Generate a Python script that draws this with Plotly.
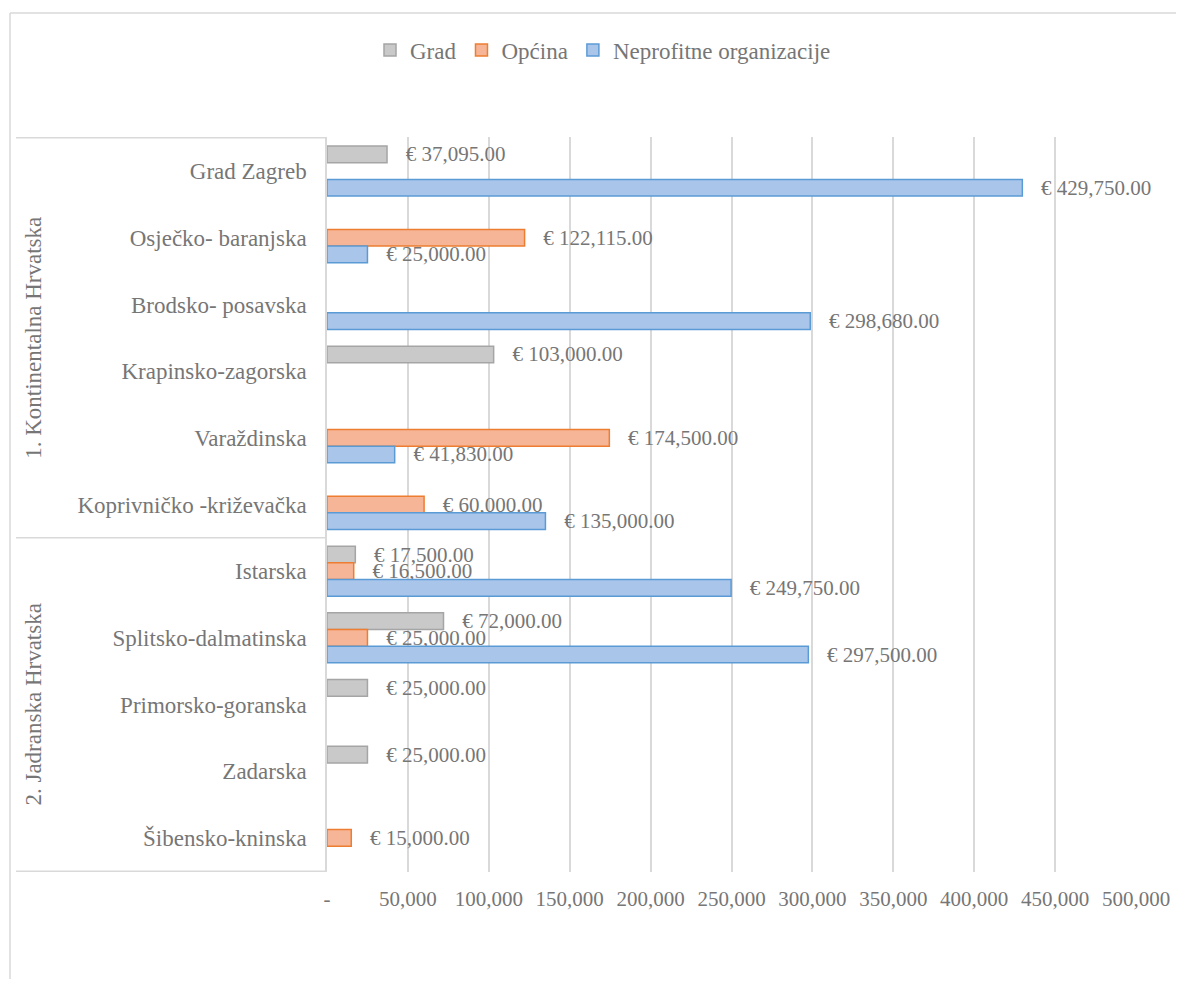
import plotly.graph_objects as go

categories = [
    "Grad Zagreb", "Osječko- baranjska", "Brodsko- posavska", "Krapinsko-zagorska",
    "Varaždinska", "Koprivničko -križevačka", "Istarska", "Splitsko-dalmatinska",
    "Primorsko-goranska", "Zadarska", "Šibensko-kninska",
]
grad = [37095, None, None, 103000, None, None, 17500, 72000, 25000, 25000, None]
opcina = [None, 122115, None, None, 174500, 60000, 16500, 25000, None, None, 15000]
neprofit = [429750, 25000, 298680, None, 41830, 135000, 249750, 297500, None, None, None]

groups = ["1. Kontinentalna Hrvatska", "2. Jadranska Hrvatska"]
group_sizes = [6, 5]

tick_vals = [0, 50000, 100000, 150000, 200000, 250000, 300000, 350000, 400000, 450000, 500000]
tick_text = ["-", "50,000", "100,000", "150,000", "200,000", "250,000", "300,000",
             "350,000", "400,000", "450,000", "500,000"]

FONT = "Liberation Serif, Times New Roman, serif"
TXT = "#767676"
LINE = "#d9d9d9"
NB = "\u00a0"


def labels(vals):
    return [f"{NB*3}€ {v:,.2f}" if v else "" for v in vals]


series = [
    ("Grad", grad, "#c9c9c9", "#a5a5a5"),
    ("Općina", opcina, "#f6b596", "#ed7d31"),
    ("Neprofitne organizacije", neprofit, "#a9c5ea", "#5b9bd5"),
]

fig = go.Figure()
for name, vals, fill, edge in series:
    fig.add_trace(go.Bar(
        name=name, y=categories, x=vals, orientation="h",
        marker=dict(color=fill, line=dict(color=edge, width=1.5)),
        text=labels(vals), textposition="outside", constraintext="none",
        cliponaxis=False,
        textfont=dict(family=FONT, size=21, color=TXT),
        hoverinfo="skip",
    ))

# page offset caused by the default body margin of the html page
OFF = 8
W, H = 1184 - 2 * OFF, 987 - 2 * OFF
PL, PR, PT, PB = 327, 1136, 137, 872  # plot area in page pixels
L, T = PL - OFF, PT - OFF
R = W - (PR - OFF)
B = H - (PB - OFF)
pw, ph = PR - PL, PB - PT


def px_x(px):
    return (px - PL) / pw


def px_y(py):
    return (PB - py) / ph


shapes = []
bounds = [-0.5]
for s in group_sizes:
    bounds.append(bounds[-1] + s)
for b in bounds:
    shapes.append(dict(type="line", xref="paper", yref="y", x0=px_x(16), x1=0,
                       y0=b, y1=b, line=dict(color=LINE, width=1.5)))
shapes.append(dict(type="line", xref="paper", yref="paper", x0=px_x(10), x1=px_x(1200),
                   y0=px_y(13), y1=px_y(13), line=dict(color=LINE, width=1.5)))
shapes.append(dict(type="line", xref="paper", yref="paper", x0=px_x(10), x1=px_x(10),
                   y0=px_y(13), y1=px_y(1000), line=dict(color=LINE, width=1.5)))

annotations = []
for i, g in enumerate(groups):
    centre = (bounds[i] + bounds[i + 1]) / 2
    annotations.append(dict(text=g, xref="paper", yref="y", x=px_x(34), y=centre,
                            textangle=-90, showarrow=False,
                            font=dict(family=FONT, size=23, color=TXT),
                            xanchor="center", yanchor="middle"))

fig.update_layout(
    width=W, height=H,
    margin=dict(l=L, r=R, t=T, b=B, autoexpand=False),
    paper_bgcolor="white", plot_bgcolor="white",
    barmode="group", bargap=0.25, bargroupgap=0,
    font=dict(family=FONT, color=TXT),
    showlegend=True,
    legend=dict(orientation="h", x=px_x(603), y=px_y(50), xanchor="center",
                yanchor="middle", font=dict(family=FONT, size=23, color=TXT),
                traceorder="normal", itemclick=False, itemwidth=30),
    shapes=shapes,
    annotations=annotations,
    xaxis=dict(range=[0, 500000], tickvals=tick_vals, ticktext=tick_text,
               showgrid=True, gridcolor=LINE, gridwidth=1.5, zeroline=False,
               showline=False, ticks="", ticklabelstandoff=12,
               tickfont=dict(family=FONT, size=21, color=TXT), fixedrange=True),
    yaxis=dict(type="category", autorange="reversed", showgrid=False,
               showline=True, linecolor=LINE, linewidth=1.5, ticks="",
               ticklabelstandoff=14,
               tickfont=dict(family=FONT, size=23, color=TXT), fixedrange=True),
)

fig.write_html("out.html")
